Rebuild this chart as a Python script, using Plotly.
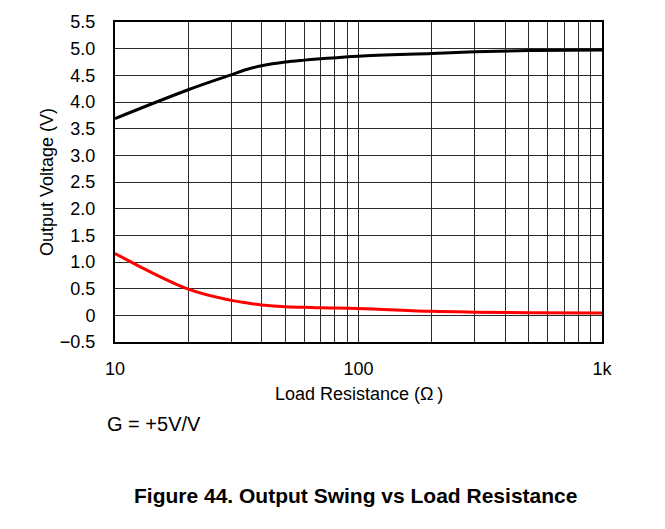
import plotly.graph_objects as go

# Load resistance sweep (ohms)
load_ohms = [10, 20, 30, 35, 40, 50, 60, 70, 100, 200, 300, 500, 1000]
# Output swing high and low limits (V)
v_high = [3.69, 4.23, 4.51, 4.615, 4.68, 4.75, 4.785, 4.81, 4.86, 4.91, 4.94, 4.965, 4.975]
v_low = [1.16, 0.49, 0.28, 0.23, 0.195, 0.16, 0.15, 0.14, 0.13, 0.075, 0.06, 0.05, 0.045]

# Axis ticks
x_grid = [10, 20, 30, 40, 50, 60, 70, 80, 90,
          100, 200, 300, 400, 500, 600, 700, 800, 900, 1000]
x_labels = {10: "10", 100: "100", 1000: "1k"}
y_ticks = [-0.5, 0, 0.5, 1.0, 1.5, 2.0, 2.5, 3.0, 3.5, 4.0, 4.5, 5.0, 5.5]
y_labels = ["\u22120.5", "0", "0.5", "1.0", "1.5", "2.0", "2.5",
            "3.0", "3.5", "4.0", "4.5", "5.0", "5.5"]

FONT = "Liberation Sans, Arial, sans-serif"

fig = go.Figure()
fig.add_trace(go.Scatter(x=load_ohms, y=v_high, mode="lines",
                         line=dict(color="black", width=3, shape="spline", smoothing=1.0),
                         showlegend=False))
fig.add_trace(go.Scatter(x=load_ohms, y=v_low, mode="lines",
                         line=dict(color="#ff0000", width=3, shape="spline", smoothing=1.0),
                         showlegend=False))

fig.update_xaxes(
    type="log", range=[1, 3],
    tickvals=x_grid,
    ticktext=[x_labels.get(v, "") for v in x_grid],
    showgrid=True, gridcolor="#2a2a2a", gridwidth=1,
    showline=True, linecolor="black", linewidth=2, mirror=True,
    ticks="", ticklabelstandoff=9,
    tickfont=dict(family=FONT, size=18, color="black"),
    zeroline=False,
)
fig.update_yaxes(
    range=[-0.5, 5.5],
    tickvals=y_ticks, ticktext=y_labels,
    showgrid=True, gridcolor="#2a2a2a", gridwidth=1,
    showline=True, linecolor="black", linewidth=2, mirror=True,
    ticks="", ticklabelstandoff=14,
    tickfont=dict(family=FONT, size=18, color="black"),
    zeroline=False,
    title=dict(text="Output Voltage (V)", standoff=2,
               font=dict(family=FONT, size=18, color="black")),
)

fig.add_annotation(text="Load Resistance (\u03a9\u2009)", xref="paper", yref="paper",
                   x=0.5, y=-0.162, xanchor="center", yanchor="middle",
                   showarrow=False, font=dict(family=FONT, size=18, color="black"))
fig.add_annotation(text="G = +5V/V", xref="paper", yref="paper",
                   x=-0.02, y=-0.256, xanchor="left", yanchor="middle",
                   showarrow=False, font=dict(family=FONT, size=20, color="black"))
fig.add_annotation(text="<b>Figure 44. Output Swing vs Load Resistance</b>",
                   xref="paper", yref="paper",
                   x=0.493, y=-0.48, xanchor="center", yanchor="middle",
                   showarrow=False, font=dict(family=FONT, size=21, color="black"))

fig.update_layout(
    width=665, height=529,
    margin=dict(l=115, r=63, t=12, b=187),
    plot_bgcolor="white", paper_bgcolor="white",
    font=dict(family=FONT, color="black"),
)

fig.write_html("out.html")
